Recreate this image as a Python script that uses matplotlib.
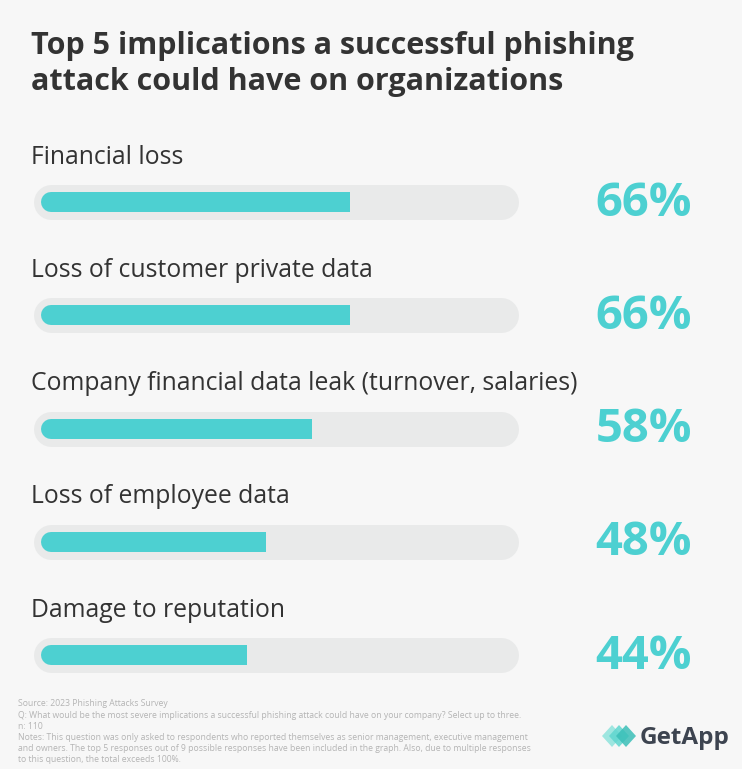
import matplotlib.pyplot as plt
from matplotlib.patches import Polygon

labels = ['Financial loss', 'Loss of customer private data',
          'Company financial data leak (turnover, salaries)',
          'Loss of employee data', 'Damage to reputation']
values = [66, 66, 58, 48, 44]

title_lines = ['Top 5 implications a successful phishing',
               'attack could have on organizations']
notes = ['Source: 2023 Phishing Attacks Survey',
         'Q: What would be the most severe implications a successful phishing attack could have on your company? Select up to three.',
         'n: 110',
         'Notes: This question was only asked to respondents who reported themselves as senior management, executive management',
         'and owners. The top 5 responses out of 9 possible responses have been included in the graph. Also, due to multiple responses',
         'to this question, the total exceeds 100%.']

bg = '#f7f7f7'
track = '#e9eaea'
teal = '#4dd0d1'
dark = '#333333'

W, H = 742, 769
fig = plt.figure(figsize=(W / 100, H / 100), dpi=100, facecolor=bg)
ax = fig.add_axes([0, 0, 1, 1])
ax.set_facecolor(bg)
ax.axis('off')

# x in percent: 0% at 41px, 100% at 509px ; y in pixels from top
px = 4.68
x0 = 41
ax.set_xlim(-x0 / px, (W - x0) / px)
ax.set_ylim(H, 0)

def xp(p):
    # pixel -> percent units
    return (p - x0) / px

pt = 0.72  # points per pixel at dpi 100

for k, tl in enumerate(title_lines):
    fig.text(31 / W, 1 - (46 + k * 36) / H, tl, fontsize=22, fontweight='bold',
             color=dark, family='Open Sans', va='center', ha='left')

for i, (lab, v) in enumerate(zip(labels, values)):
    yc = 202 + i * 113.3
    # track, round both ends
    ax.plot([xp(33 + 17.5), xp(518 - 17.5)], [yc, yc], color=track,
            lw=35 * pt, solid_capstyle='round', zorder=1)
    # fill, round left / square right
    ax.plot([xp(41 + 10), v], [yc, yc], color=teal, lw=20 * pt,
            solid_capstyle='butt', zorder=2)
    ax.plot([xp(41 + 10), xp(41 + 14)], [yc, yc], color=teal, lw=20 * pt,
            solid_capstyle='round', zorder=2)
    ax.text(xp(31), yc - 45, lab, fontsize=17.8, color=dark,
            family='Open Sans', va='center', ha='left')
    ax.text(xp(692), yc + 1, f'{v}%', fontsize=34, fontweight='bold', color=teal,
            family='Open Sans', va='center', ha='right')

for j, line in enumerate(notes):
    fig.text(18 / W, 1 - (704 + j * 11.2) / H, line, fontsize=6.2,
             color='#b4b4b4', family='Open Sans', va='center', ha='left')

# GetApp logo
logo_ax = fig.add_axes([601 / W, 1 - 750 / H, 36 / W, 28 / H])
logo_ax.set_xlim(0, 36)
logo_ax.set_ylim(0, 28)
logo_ax.axis('off')
for dx, c in [(0, '#8fe3dc'), (7, '#5fd6cf'), (14, '#3bbfb8')]:
    poly = [(dx + 1, 14), (dx + 11, 25), (dx + 21, 14), (dx + 11, 3)]
    logo_ax.add_patch(Polygon(poly, closed=True, color=c, alpha=0.85, lw=0))
fig.text(640 / W, 1 - 738 / H, 'GetApp', fontsize=17.5, fontweight='bold',
         color='#3d4450', family='Open Sans', va='center', ha='left')

fig.savefig('out.png', dpi=100, facecolor=bg)
